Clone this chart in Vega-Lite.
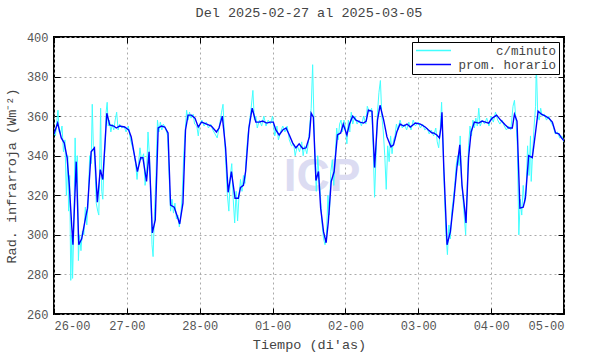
{
  "$schema": "https://vega.github.io/schema/vega-lite/v6.json",
  "autosize": "none",
  "width": 510,
  "height": 277,
  "padding": {"left": 54, "top": 37, "right": 26, "bottom": 40},
  "background": "white",
  "title": {"text": "Del 2025-02-27 al 2025-03-05", "font": "Liberation Mono", "fontSize": 13.5, "fontWeight": "normal", "color": "#444", "offset": 12},
  "config": {
    "view": {"stroke": "black", "strokeWidth": 2},
    "axis": {"labelFont": "Liberation Mono", "labelFontSize": 12, "labelColor": "#555", "titleFont": "Liberation Mono", "titleFontSize": 13.5, "titleFontWeight": "normal", "titleColor": "#444", "domain": false, "tickColor": "black", "tickWidth": 1},
    "legend": {"labelFont": "Liberation Mono", "labelFontSize": 12.5, "labelColor": "#444"}
  },
  "datasets": {
    "marca": [{"nombre": "ICP"}],
    "minuto": [
      {"t":0.0,"v":352},{"t":0.02,"v":350},{"t":0.04,"v":358},{"t":0.055,"v":363},{"t":0.07,"v":352},{"t":0.09,"v":351},{"t":0.11,"v":355},{"t":0.13,"v":342},{"t":0.15,"v":348},{"t":0.17,"v":320},{"t":0.19,"v":340},{"t":0.2,"v":312},{"t":0.215,"v":330},{"t":0.23,"v":277},{"t":0.245,"v":300},{"t":0.255,"v":278},{"t":0.27,"v":300},{"t":0.29,"v":349},{"t":0.3,"v":330},{"t":0.32,"v":340},{"t":0.335,"v":287},{"t":0.35,"v":300},{"t":0.37,"v":292},{"t":0.39,"v":302},{"t":0.41,"v":300},{"t":0.43,"v":314},{"t":0.45,"v":305},{"t":0.47,"v":318},{"t":0.49,"v":340},{"t":0.51,"v":336},{"t":0.525,"v":366},{"t":0.54,"v":345},{"t":0.56,"v":338},{"t":0.58,"v":316},{"t":0.6,"v":312},{"t":0.615,"v":310},{"t":0.625,"v":330},{"t":0.64,"v":364},{"t":0.655,"v":322},{"t":0.67,"v":318},{"t":0.685,"v":335},{"t":0.7,"v":345},{"t":0.715,"v":362},{"t":0.73,"v":367},{"t":0.745,"v":355},{"t":0.76,"v":358},{"t":0.78,"v":352},{"t":0.8,"v":356},{"t":0.82,"v":353},{"t":0.84,"v":358},{"t":0.86,"v":362},{"t":0.88,"v":353},{"t":0.9,"v":356},{"t":0.93,"v":354},{"t":0.96,"v":355},{"t":0.99,"v":352},
      {"t":1.02,"v":355},{"t":1.05,"v":348},{"t":1.08,"v":344},{"t":1.1,"v":341},{"t":1.12,"v":336},{"t":1.14,"v":328},{"t":1.16,"v":336},{"t":1.18,"v":344},{"t":1.2,"v":338},{"t":1.23,"v":341},{"t":1.25,"v":325},{"t":1.27,"v":330},{"t":1.29,"v":352},{"t":1.31,"v":340},{"t":1.33,"v":320},{"t":1.345,"v":295},{"t":1.36,"v":289},{"t":1.38,"v":312},{"t":1.4,"v":330},{"t":1.42,"v":358},{"t":1.44,"v":352},{"t":1.46,"v":357},{"t":1.48,"v":353},{"t":1.5,"v":356},{"t":1.53,"v":354},{"t":1.56,"v":350},{"t":1.58,"v":330},{"t":1.6,"v":312},{"t":1.62,"v":318},{"t":1.64,"v":311},{"t":1.66,"v":316},{"t":1.68,"v":308},{"t":1.7,"v":310},{"t":1.72,"v":304},{"t":1.74,"v":310},{"t":1.76,"v":320},{"t":1.78,"v":340},{"t":1.8,"v":352},{"t":1.82,"v":363},{"t":1.84,"v":358},{"t":1.86,"v":362},{"t":1.88,"v":359},{"t":1.91,"v":361},{"t":1.93,"v":356},{"t":1.96,"v":355},{"t":1.98,"v":350},
      {"t":2.0,"v":356},{"t":2.03,"v":358},{"t":2.06,"v":355},{"t":2.09,"v":357},{"t":2.12,"v":354},{"t":2.15,"v":356},{"t":2.18,"v":353},{"t":2.21,"v":351},{"t":2.24,"v":349},{"t":2.27,"v":355},{"t":2.3,"v":362},{"t":2.32,"v":366},{"t":2.34,"v":350},{"t":2.36,"v":335},{"t":2.38,"v":320},{"t":2.4,"v":312},{"t":2.42,"v":330},{"t":2.44,"v":336},{"t":2.46,"v":318},{"t":2.48,"v":306},{"t":2.5,"v":322},{"t":2.52,"v":307},{"t":2.54,"v":320},{"t":2.56,"v":328},{"t":2.58,"v":322},{"t":2.6,"v":330},{"t":2.62,"v":326},{"t":2.64,"v":340},{"t":2.66,"v":350},{"t":2.68,"v":356},{"t":2.7,"v":362},{"t":2.73,"v":373},{"t":2.75,"v":358},{"t":2.77,"v":360},{"t":2.79,"v":354},{"t":2.82,"v":358},{"t":2.85,"v":355},{"t":2.88,"v":360},{"t":2.91,"v":355},{"t":2.94,"v":358},{"t":2.97,"v":356},
      {"t":3.0,"v":360},{"t":3.03,"v":350},{"t":3.06,"v":355},{"t":3.08,"v":348},{"t":3.11,"v":352},{"t":3.14,"v":355},{"t":3.17,"v":352},{"t":3.2,"v":355},{"t":3.23,"v":348},{"t":3.26,"v":345},{"t":3.29,"v":346},{"t":3.31,"v":340},{"t":3.34,"v":345},{"t":3.37,"v":342},{"t":3.4,"v":347},{"t":3.42,"v":340},{"t":3.44,"v":345},{"t":3.47,"v":341},{"t":3.49,"v":346},{"t":3.51,"v":355},{"t":3.53,"v":364},{"t":3.55,"v":386},{"t":3.57,"v":355},{"t":3.585,"v":335},{"t":3.6,"v":322},{"t":3.62,"v":340},{"t":3.64,"v":328},{"t":3.66,"v":318},{"t":3.68,"v":305},{"t":3.7,"v":298},{"t":3.72,"v":295},{"t":3.74,"v":300},{"t":3.76,"v":320},{"t":3.78,"v":310},{"t":3.8,"v":332},{"t":3.82,"v":338},{"t":3.84,"v":325},{"t":3.86,"v":340},{"t":3.88,"v":354},{"t":3.9,"v":348},{"t":3.92,"v":356},{"t":3.94,"v":358},{"t":3.96,"v":352},{"t":3.98,"v":358},
      {"t":4.0,"v":354},{"t":4.02,"v":346},{"t":4.04,"v":358},{"t":4.06,"v":352},{"t":4.08,"v":362},{"t":4.1,"v":356},{"t":4.13,"v":360},{"t":4.16,"v":356},{"t":4.19,"v":358},{"t":4.22,"v":355},{"t":4.25,"v":360},{"t":4.28,"v":356},{"t":4.3,"v":365},{"t":4.33,"v":362},{"t":4.36,"v":364},{"t":4.38,"v":345},{"t":4.4,"v":319},{"t":4.42,"v":340},{"t":4.44,"v":362},{"t":4.46,"v":372},{"t":4.48,"v":378},{"t":4.5,"v":360},{"t":4.52,"v":352},{"t":4.54,"v":340},{"t":4.56,"v":323},{"t":4.58,"v":345},{"t":4.6,"v":337},{"t":4.62,"v":350},{"t":4.64,"v":341},{"t":4.66,"v":348},{"t":4.68,"v":350},{"t":4.7,"v":356},{"t":4.72,"v":353},{"t":4.75,"v":358},{"t":4.78,"v":354},{"t":4.81,"v":356},{"t":4.84,"v":353},{"t":4.87,"v":357},{"t":4.9,"v":353},{"t":4.93,"v":358},{"t":4.96,"v":355},
      {"t":5.0,"v":357},{"t":5.03,"v":354},{"t":5.06,"v":356},{"t":5.09,"v":353},{"t":5.12,"v":354},{"t":5.15,"v":351},{"t":5.18,"v":353},{"t":5.21,"v":350},{"t":5.24,"v":354},{"t":5.26,"v":347},{"t":5.28,"v":344},{"t":5.3,"v":352},{"t":5.32,"v":367},{"t":5.34,"v":345},{"t":5.36,"v":320},{"t":5.38,"v":300},{"t":5.4,"v":290},{"t":5.42,"v":305},{"t":5.44,"v":298},{"t":5.46,"v":312},{"t":5.48,"v":318},{"t":5.5,"v":325},{"t":5.52,"v":335},{"t":5.54,"v":340},{"t":5.56,"v":335},{"t":5.575,"v":350},{"t":5.59,"v":330},{"t":5.61,"v":320},{"t":5.63,"v":310},{"t":5.65,"v":300},{"t":5.67,"v":322},{"t":5.69,"v":345},{"t":5.71,"v":355},{"t":5.73,"v":350},{"t":5.75,"v":358},{"t":5.77,"v":354},{"t":5.79,"v":359},{"t":5.81,"v":355},{"t":5.83,"v":364},{"t":5.85,"v":355},{"t":5.88,"v":358},{"t":5.91,"v":356},{"t":5.94,"v":359},{"t":5.97,"v":355},
      {"t":6.0,"v":360},{"t":6.03,"v":357},{"t":6.06,"v":362},{"t":6.09,"v":358},{"t":6.12,"v":356},{"t":6.15,"v":358},{"t":6.18,"v":355},{"t":6.21,"v":353},{"t":6.24,"v":355},{"t":6.27,"v":353},{"t":6.3,"v":365},{"t":6.32,"v":368},{"t":6.34,"v":358},{"t":6.36,"v":345},{"t":6.38,"v":300},{"t":6.4,"v":318},{"t":6.42,"v":310},{"t":6.44,"v":325},{"t":6.46,"v":316},{"t":6.48,"v":322},{"t":6.5,"v":345},{"t":6.52,"v":330},{"t":6.54,"v":350},{"t":6.55,"v":327},{"t":6.57,"v":342},{"t":6.59,"v":355},{"t":6.61,"v":365},{"t":6.62,"v":387},{"t":6.64,"v":360},{"t":6.66,"v":358},{"t":6.68,"v":364},{"t":6.7,"v":360},{"t":6.73,"v":361},{"t":6.76,"v":358},{"t":6.79,"v":360},{"t":6.82,"v":357},{"t":6.85,"v":355},{"t":6.88,"v":351},{"t":6.91,"v":352},{"t":6.94,"v":349},{"t":6.97,"v":350},{"t":7.0,"v":347}
    ],
    "horario": [
      {"t":0.0,"v":351},{"t":0.05,"v":356.5},{"t":0.1,"v":349},{"t":0.14,"v":346.5},{"t":0.18,"v":339},{"t":0.21,"v":325},{"t":0.245,"v":303.5},{"t":0.26,"v":295},{"t":0.305,"v":337},{"t":0.34,"v":295},{"t":0.38,"v":298},{"t":0.44,"v":310},{"t":0.46,"v":313.5},{"t":0.51,"v":342},{"t":0.555,"v":344},{"t":0.595,"v":316.5},{"t":0.635,"v":333},{"t":0.67,"v":328},{"t":0.725,"v":361.5},{"t":0.765,"v":355.5},{"t":0.82,"v":355},{"t":0.855,"v":354},{"t":0.9,"v":355},{"t":0.97,"v":354.5},
      {"t":1.025,"v":353},{"t":1.06,"v":349.5},{"t":1.105,"v":340},{"t":1.145,"v":332},{"t":1.19,"v":339},{"t":1.22,"v":339},{"t":1.27,"v":327},{"t":1.305,"v":342},{"t":1.35,"v":301},{"t":1.39,"v":307.5},{"t":1.43,"v":354},{"t":1.475,"v":355},{"t":1.52,"v":354.5},{"t":1.565,"v":351.5},{"t":1.6,"v":315},{"t":1.65,"v":314},{"t":1.695,"v":309},{"t":1.725,"v":305.5},{"t":1.77,"v":316},{"t":1.805,"v":353},{"t":1.84,"v":360.5},{"t":1.885,"v":360.5},{"t":1.935,"v":359},{"t":1.98,"v":354.5},
      {"t":2.025,"v":357},{"t":2.095,"v":356},{"t":2.16,"v":355},{"t":2.23,"v":352},{"t":2.265,"v":354},{"t":2.31,"v":360},{"t":2.355,"v":344},{"t":2.39,"v":321.5},{"t":2.435,"v":332},{"t":2.485,"v":318.5},{"t":2.53,"v":318.5},{"t":2.56,"v":324},{"t":2.6,"v":325},{"t":2.63,"v":332},{"t":2.675,"v":354},{"t":2.72,"v":364},{"t":2.77,"v":357},{"t":2.815,"v":357},{"t":2.865,"v":357.5},{"t":2.92,"v":356.5},{"t":2.965,"v":357},
      {"t":3.01,"v":357},{"t":3.045,"v":353},{"t":3.09,"v":350.5},{"t":3.14,"v":353},{"t":3.185,"v":354},{"t":3.23,"v":350.5},{"t":3.275,"v":346.5},{"t":3.32,"v":344},{"t":3.365,"v":346},{"t":3.415,"v":343.5},{"t":3.46,"v":344},{"t":3.505,"v":349.5},{"t":3.53,"v":361.5},{"t":3.56,"v":359.5},{"t":3.595,"v":327.5},{"t":3.63,"v":332},{"t":3.66,"v":313.5},{"t":3.7,"v":301.5},{"t":3.735,"v":296},{"t":3.765,"v":306.5},{"t":3.805,"v":327},{"t":3.845,"v":332},{"t":3.89,"v":350.5},{"t":3.935,"v":351.5},{"t":3.97,"v":356},
      {"t":4.02,"v":350.5},{"t":4.055,"v":356},{"t":4.1,"v":360},{"t":4.145,"v":358},{"t":4.2,"v":357},{"t":4.25,"v":356.5},{"t":4.285,"v":357.5},{"t":4.315,"v":363},{"t":4.365,"v":362.5},{"t":4.4,"v":334},{"t":4.44,"v":358},{"t":4.475,"v":365.5},{"t":4.525,"v":358},{"t":4.57,"v":349.5},{"t":4.625,"v":344.5},{"t":4.66,"v":345.5},{"t":4.705,"v":352},{"t":4.75,"v":356},{"t":4.8,"v":355},{"t":4.845,"v":356},{"t":4.89,"v":354.5},{"t":4.96,"v":356.5},
      {"t":5.03,"v":356},{"t":5.095,"v":354.5},{"t":5.14,"v":353},{"t":5.19,"v":351.5},{"t":5.21,"v":351.5},{"t":5.255,"v":350.5},{"t":5.29,"v":349},{"t":5.31,"v":354},{"t":5.325,"v":362},{"t":5.35,"v":334},{"t":5.395,"v":295},{"t":5.44,"v":301.5},{"t":5.485,"v":316.5},{"t":5.53,"v":334},{"t":5.57,"v":345.5},{"t":5.6,"v":325},{"t":5.635,"v":313.5},{"t":5.655,"v":306},{"t":5.69,"v":339},{"t":5.725,"v":352},{"t":5.77,"v":357},{"t":5.83,"v":356.5},{"t":5.875,"v":357.5},{"t":5.92,"v":357},{"t":5.965,"v":356.5},
      {"t":6.015,"v":359},{"t":6.075,"v":360.5},{"t":6.13,"v":358},{"t":6.195,"v":355.5},{"t":6.24,"v":354},{"t":6.29,"v":354},{"t":6.32,"v":361},{"t":6.355,"v":357.5},{"t":6.395,"v":313.5},{"t":6.44,"v":314},{"t":6.47,"v":318.5},{"t":6.515,"v":340},{"t":6.565,"v":339},{"t":6.61,"v":352},{"t":6.645,"v":362.5},{"t":6.69,"v":361},{"t":6.745,"v":360},{"t":6.79,"v":359},{"t":6.84,"v":357},{"t":6.885,"v":351.5},{"t":6.93,"v":351},{"t":6.965,"v":349},{"t":7.0,"v":347.5}
    ]
  },
  "resolve": {"axis": {"x": "independent", "y": "independent"}},
  "layer": [
    {
      "data": {"name": "marca"},
      "mark": {"type": "text", "font": "Liberation Sans", "fontSize": 46, "fontWeight": "bold", "color": "#dcdcf2"},
      "encoding": {
        "x": {"datum": 3.68, "type": "quantitative", "scale": {"domain": [0, 7], "nice": false, "zero": false}, "axis": null},
        "y": {"datum": 329, "type": "quantitative", "scale": {"domain": [260, 400], "nice": false, "zero": false}, "axis": null},
        "text": {"field": "nombre"}
      }
    },
    {
      "data": {"name": "minuto"},
      "mark": {"type": "line", "strokeWidth": 1, "clip": true},
      "encoding": {
        "x": {"field": "t", "type": "quantitative", "scale": {"domain": [0, 7], "nice": false, "zero": false},
          "axis": {"orient": "bottom", "values": [0,1,2,3,4,5,6,7], "labelExpr": "['26','27','28','01','02','03','04','05'][datum.value] + '-00'", "title": "Tiempo (di'as)", "grid": true, "gridDash": [2, 3], "gridColor": "#aaa", "tickSize": -6, "labelPadding": 12, "titlePadding": 6, "labelFont": "Liberation Mono", "titleFont": "Liberation Mono"}},
        "y": {"field": "v", "type": "quantitative", "scale": {"domain": [260, 400], "nice": false, "zero": false},
          "axis": {"orient": "left", "values": [260,280,300,320,340,360,380,400], "title": "Rad. infrarroja (Wm⁻²)", "grid": true, "gridDash": [2, 3], "gridColor": "#aaa", "tickSize": -6, "labelPadding": 12, "titlePadding": 8, "labelFont": "Liberation Mono", "titleFont": "Liberation Mono"}},
        "color": {"datum": "c/minuto", "type": "nominal",
          "scale": {"domain": ["c/minuto", "prom. horario"], "range": ["#40ffff", "#0000ff"]},
          "legend": {"title": null, "orient": "top-right", "offset": 5, "symbolType": "stroke", "symbolSize": 1225, "symbolStrokeWidth": 1.5, "clipHeight": 11, "fillColor": "white", "strokeColor": "black", "padding": 3, "rowPadding": 1, "labelOffset": 104, "labelAlign": "right", "cornerRadius": 0, "labelFont": "Liberation Mono", "labelFontSize": 12.5, "labelColor": "#444"}}
      }
    },
    {
      "data": {"name": "horario"},
      "mark": {"type": "line", "strokeWidth": 1.4, "clip": true},
      "encoding": {
        "x": {"field": "t", "type": "quantitative", "scale": {"domain": [0, 7], "nice": false, "zero": false},
          "axis": {"orient": "top", "values": [0,1,2,3,4,5,6,7], "labels": false, "title": null, "grid": false, "tickSize": -6}},
        "y": {"field": "v", "type": "quantitative", "scale": {"domain": [260, 400], "nice": false, "zero": false},
          "axis": {"orient": "right", "values": [260,280,300,320,340,360,380,400], "labels": false, "title": null, "grid": false, "tickSize": -6}},
        "color": {"datum": "prom. horario", "type": "nominal"}
      }
    }
  ]
}
